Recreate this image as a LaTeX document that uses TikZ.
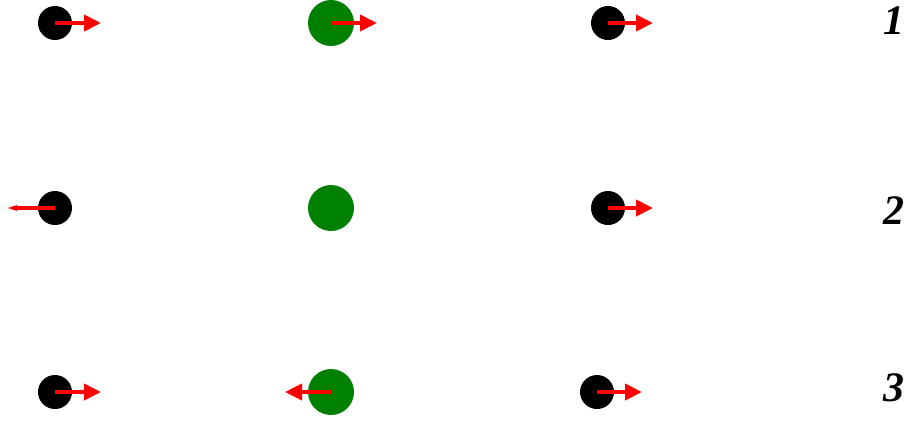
\documentclass[tikz,border=0pt]{standalone}
\usepackage{fontspec}
\setmainfont{Liberation Serif}
\usepackage{tikz}
\usetikzlibrary{arrows.meta}

\definecolor{dotgreen}{RGB}{0,128,0}
\tikzset{
    blackdot/.style={circle, fill=black, inner sep=0pt, minimum size=34pt},
    greendot/.style={circle, fill=dotgreen, inner sep=0pt, minimum size=46pt},
    vec/.style={red, line width=4pt, -{Triangle[length=17pt, width=16pt]}},
    thinvec/.style={red, line width=4pt, -{Stealth[length=20pt, width=13pt, inset=13pt]}},
    rowlabel/.style={font=\fontsize{42}{42}\selectfont\bfseries\itshape, inner sep=0pt}
}

\begin{document}
\begin{tikzpicture}[x=1pt, y=-1pt]
    \useasboundingbox (0, 0) rectangle (909, 424);

    % Row 1
    \node[blackdot] (a1) at (55, 23) {};
    \node[greendot] (b1) at (331, 23) {};
    \node[blackdot] (c1) at (608, 23) {};
    \coordinate (a1e) at (101, 23);
    \coordinate (b1e) at (377, 23);
    \coordinate (c1e) at (653, 23);
    \draw[vec] (a1.center) -- (a1e);
    \draw[vec] (b1.center) -- (b1e);
    \draw[vec] (c1.center) -- (c1e);
    \node[rowlabel] (l1) at (894, 21) {1};

    % Row 2
    \node[blackdot] (a2) at (55, 208) {};
    \node[greendot] (b2) at (331, 208) {};
    \node[blackdot] (c2) at (608, 208) {};
    \coordinate (a2e) at (8, 208);
    \coordinate (c2e) at (653, 208);
    \draw[thinvec] (a2.center) -- (a2e);
    \draw[vec] (c2.center) -- (c2e);
    \node[rowlabel] (l2) at (894, 211) {2};

    % Row 3
    \node[blackdot] (a3) at (55, 392) {};
    \node[greendot] (b3) at (331, 392) {};
    \node[blackdot] (c3) at (597, 392) {};
    \coordinate (a3e) at (101, 392);
    \coordinate (b3e) at (285, 392);
    \coordinate (c3e) at (642, 392);
    \draw[vec] (a3.center) -- (a3e);
    \draw[vec] (b3.center) -- (b3e);
    \draw[vec] (c3.center) -- (c3e);
    \node[rowlabel] (l3) at (894, 388) {3};
\end{tikzpicture}
\end{document}
